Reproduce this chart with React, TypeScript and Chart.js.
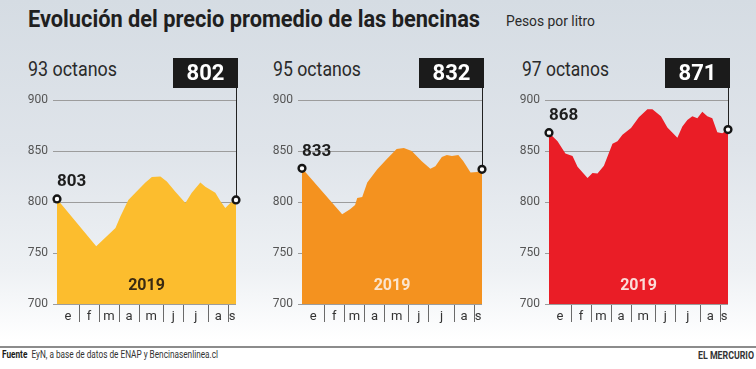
import React, { useEffect, useLayoutEffect, useRef } from 'react';
import { Chart, registerables } from 'chart.js';
Chart.register(...registerables);

// ---- data ----
const monthLabels = ['e', 'f', 'm', 'a', 'm', 'j', 'j', 'a', 's'];
const monthBounds = [31, 59, 87, 115, 149, 177, 212, 240];
const dayEnd = 251;
const yMin = 700;
const yMax = 900;
const yStep = 50;
const yearLabel = '2019';

const days93 = [0, 55, 82, 89, 100, 114, 124, 133, 145, 154, 166, 180, 189, 201, 208, 222, 229, 236, 243, 251];
const price93 = [803, 756.5, 774.5, 786, 802, 812, 819, 824.5, 825, 820, 810, 799, 809, 819, 815, 809, 801, 794, 799, 802];

const days95 = [0, 56, 67, 74, 77, 84, 91, 105, 118, 132, 142, 153, 167, 179, 186, 195, 202, 209, 218, 225, 235, 244, 251];
const price95 = [833, 788, 793, 797, 804, 805, 819, 832, 842, 852, 853, 850, 840, 832.5, 835, 844, 846, 845, 846, 840, 829, 829.5, 832];

const days97 = [0, 12, 23, 33, 40, 54, 61, 68, 77, 89, 96, 103, 115, 126, 138, 145, 157, 166, 180, 187, 194, 201, 208, 215, 222, 229, 236, 243, 251];
const price97 = [868, 859.5, 847.5, 845, 834.5, 823.5, 828.5, 828, 835.5, 857, 859.5, 866, 872.5, 883, 891, 891, 884, 873, 863, 874, 880.5, 884, 882, 888.5, 884, 882, 868.5, 867.5, 871];

const titleText = 'Evolución del precio promedio de las bencinas';
const unitText = 'Pesos por litro';
const panelTitles = ['93 octanos', '95 octanos', '97 octanos'];
const sourceLabel = 'Fuente';
const sourceText = 'EyN, a base de datos de ENAP y Bencinasenlinea.cl';
const brandText = 'EL MERCURIO';

// ---- layout ----
const CW = 246;
const CH = 280;
const CTOP = 50;
const FONT = 'Roboto, "Open Sans", sans-serif';

function FitText(props: {
  children: React.ReactNode; x: number; baseline: number; width: number;
  size: number; weight?: number; color?: string;
}) {
  const ref = useRef<HTMLSpanElement>(null);
  useLayoutEffect(() => {
    const el = ref.current;
    if (!el) return;
    el.style.transform = 'none';
    const w = el.getBoundingClientRect().width;
    if (w > 0) el.style.transform = `scaleX(${props.width / w})`;
  }, []);
  const top = props.baseline - 0.843 * props.size;
  return (
    <span
      ref={ref}
      style={{
        position: 'absolute', left: props.x, top, whiteSpace: 'nowrap',
        fontFamily: FONT, fontSize: props.size, lineHeight: `${props.size}px`,
        fontWeight: props.weight ?? 400, color: props.color ?? '#222',
        transformOrigin: 'left center',
      }}
    >
      {props.children}
    </span>
  );
}

function Panel(props: {
  left: number; yAxisWidth: number; days: number[]; values: number[];
  fill: string; yearColor: string;
}) {
  const ref = useRef<HTMLCanvasElement>(null);
  useEffect(() => {
    const canvas = ref.current;
    if (!canvas) return;
    const { days, values, fill, yearColor, yAxisWidth } = props;
    const edges = [0, ...monthBounds, dayEnd];
    const mids = monthLabels.map((_, i) => (edges[i] + edges[i + 1]) / 2);
    const labelAt = new Map<number, string>(mids.map((m, i) => [m, monthLabels[i]]));
    const n = values.length;

    const decor = {
      id: 'decor',
      beforeDatasetsDraw(chart: any) {
        const { ctx, scales } = chart;
        const xr = Math.round(scales.x.getPixelForValue(days[n - 1])) + 0.5;
        const yr = scales.y.getPixelForValue(values[n - 1]);
        ctx.save();
        ctx.strokeStyle = '#222';
        ctx.lineWidth = 1;
        ctx.beginPath();
        ctx.moveTo(xr, 38);
        ctx.lineTo(xr, yr);
        ctx.stroke();
        ctx.restore();
      },
      afterDatasetsDraw(chart: any) {
        const { ctx, scales, chartArea } = chart;
        const xr = Math.round(scales.x.getPixelForValue(days[n - 1]));
        const x0 = scales.x.getPixelForValue(days[0]);
        const y0 = scales.y.getPixelForValue(values[0]);
        ctx.save();
        // value box
        ctx.fillStyle = '#1b1b1b';
        ctx.fillRect(xr - 63, 8, 65, 30);
        ctx.fillStyle = '#ffffff';
        ctx.font = `bold 22px ${FONT}`;
        ctx.textAlign = 'center';
        ctx.textBaseline = 'middle';
        ctx.fillText(String(Math.round(values[n - 1])), xr - 30.5, 24);
        // first value label
        ctx.fillStyle = '#1e1e1e';
        ctx.font = `bold 17px ${FONT}`;
        ctx.textAlign = 'left';
        ctx.fillText(String(Math.round(values[0])), x0, y0 - 17);
        // year
        ctx.fillStyle = yearColor;
        ctx.font = `bold 16px ${FONT}`;
        ctx.textAlign = 'center';
        ctx.fillText(yearLabel, (chartArea.left + chartArea.right) / 2, chartArea.bottom - 18);
        ctx.restore();
      },
    };

    const chart = new Chart(canvas, {
      type: 'line',
      data: {
        datasets: [
          {
            data: days.map((d, i) => ({ x: d, y: values[i] })),
            fill: 'start',
            backgroundColor: fill,
            borderWidth: 0,
            borderColor: fill,
            tension: 0,
            clip: false as any,
            pointRadius: (c: any) => (c.dataIndex === 0 || c.dataIndex === n - 1 ? 3.4 : 0),
            pointHoverRadius: 0,
            pointBackgroundColor: '#ffffff',
            pointBorderColor: '#151515',
            pointBorderWidth: 2.4,
          },
        ],
      },
      options: {
        animation: false,
        responsive: false,
        devicePixelRatio: 1,
        events: [],
        layout: { padding: { top: 50, right: 10, left: 0, bottom: 0 } },
        plugins: { legend: { display: false }, tooltip: { enabled: false } },
        scales: {
          x: {
            type: 'linear',
            min: 0,
            max: dayEnd,
            afterFit: (s: any) => { s.height = 26; },
            afterBuildTicks: (s: any) => {
              s.ticks = [...monthBounds, ...mids].sort((a, b) => a - b).map((v) => ({ value: v }));
            },
            border: { display: false },
            grid: {
              drawOnChartArea: false,
              tickLength: 18,
              lineWidth: 1,
              tickColor: (c: any) => (c.tick && monthBounds.includes(c.tick.value) ? '#6a6a6a' : 'rgba(0,0,0,0)'),
            },
            ticks: {
              autoSkip: false,
              maxRotation: 0,
              padding: -13,
              color: '#333',
              font: { family: FONT, size: 13 },
              callback: (v: any) => labelAt.get(Number(v)) ?? '',
            },
          },
          y: {
            min: yMin,
            max: yMax,
            afterFit: (s: any) => { s.width = yAxisWidth; },
            border: { display: false },
            grid: { color: '#9c9c9c', lineWidth: 1, tickLength: 4 },
            ticks: {
              stepSize: yStep,
              padding: 5,
              color: '#555',
              font: { family: FONT, size: 12 },
            },
          },
        },
      } as any,
      plugins: [decor],
    });
    return () => chart.destroy();
  }, []);
  return (
    <canvas
      ref={ref}
      width={CW}
      height={CH}
      style={{ position: 'absolute', left: props.left, top: CTOP, width: CW, height: CH }}
    />
  );
}

export default function App() {
  return (
    <div
      style={{
        position: 'absolute', left: 0, top: 0, width: 756, height: 369, overflow: 'hidden',
        background: 'linear-gradient(to bottom, #d5dce3 0px, #dfe4ea 150px, #eef1f4 270px, #fafbfc 320px, #ffffff 340px)',
      }}
    >
      <FitText x={28} baseline={27} width={452} size={24} weight={700} color="#1f1f1f">{titleText}</FitText>
      <FitText x={506} baseline={27} width={89} size={15} color="#2a2a2a">{unitText}</FitText>

      <FitText x={28} baseline={76} width={89} size={20} color="#2a2a2a">{panelTitles[0]}</FitText>
      <FitText x={273} baseline={76} width={88} size={20} color="#2a2a2a">{panelTitles[1]}</FitText>
      <FitText x={522} baseline={76} width={87} size={20} color="#2a2a2a">{panelTitles[2]}</FitText>

      <Panel left={0} yAxisWidth={57} days={days93} values={price93} fill="#fcbd2e" yearColor="#3a2a12" />
      <Panel left={246} yAxisWidth={56} days={days95} values={price95} fill="#f4921f" yearColor="#fbe5cf" />
      <Panel left={492} yAxisWidth={57} days={days97} values={price97} fill="#ea1d26" yearColor="#fbdcd8" />

      <div style={{ position: 'absolute', left: 0, top: 346, width: 756, height: 2, background: '#8c8c8c' }} />
      <FitText x={2} baseline={359} width={216} size={11.5} color="#333">
        <b style={{ color: '#1a1a1a' }}>{sourceLabel}</b>&nbsp; {sourceText}
      </FitText>
      <FitText x={698} baseline={359} width={56} size={10} weight={700} color="#333">{brandText}</FitText>
    </div>
  );
}
